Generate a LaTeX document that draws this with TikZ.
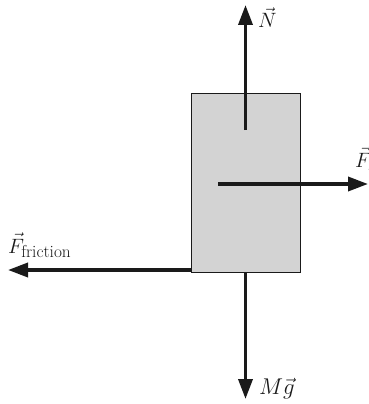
\documentclass[tikz,border=0pt]{standalone}
\usepackage{xcolor}
\usepackage{amsmath}
\usepackage{tikz}
\usetikzlibrary{arrows.meta}
\definecolor{ink}{HTML}{1A1A1A}
\definecolor{block}{HTML}{D3D3D3}

\begin{document}
\begin{tikzpicture}[x=1pt, y=-1pt,
    force/.style={ink, line width=3.6pt, -{Triangle[length=20pt, width=14pt]}},
    lbl/.style={anchor=base west, inner sep=0pt, text=ink, font=\huge}]
  \useasboundingbox (0,0) rectangle (368,404);
  \clip (0,0) rectangle (368,404);
  % the block
  \node[draw=ink, fill=block, line width=0.9pt, minimum width=109pt, minimum height=179pt, inner sep=0pt] (box) at (245.5,182.5) {};
  % arrow ends
  \coordinate (nStart) at (245.5,130);
  \coordinate (nTip) at (245.5,5);
  \coordinate (fStart) at (218,184);
  \coordinate (fTip) at (368,184);
  \coordinate (frTip) at (8,270);
  \coordinate (gTip) at (245.5,399);
  % forces
  \draw[force] (nStart) -- (nTip);
  \draw[force] (fStart) -- (fTip);
  \draw[force] (box.south west |- frTip) -- (frTip);
  \draw[force] (box.south) -- (gTip);
  % labels
  \node[lbl] (nLbl) at (258,28) {$\vec{N}$};
  \node[lbl] (fLbl) at (355,167) {$\vec{F}_{\text{\LARGE applied}}$};
  \node[lbl] (frLbl) at (8,253) {$\vec{F}_{\text{\LARGE friction}}$};
  \node[lbl] (gLbl) at (259,394) {$\scalebox{1.1}{$M\vec{g}$}$};
\end{tikzpicture}
\end{document}
